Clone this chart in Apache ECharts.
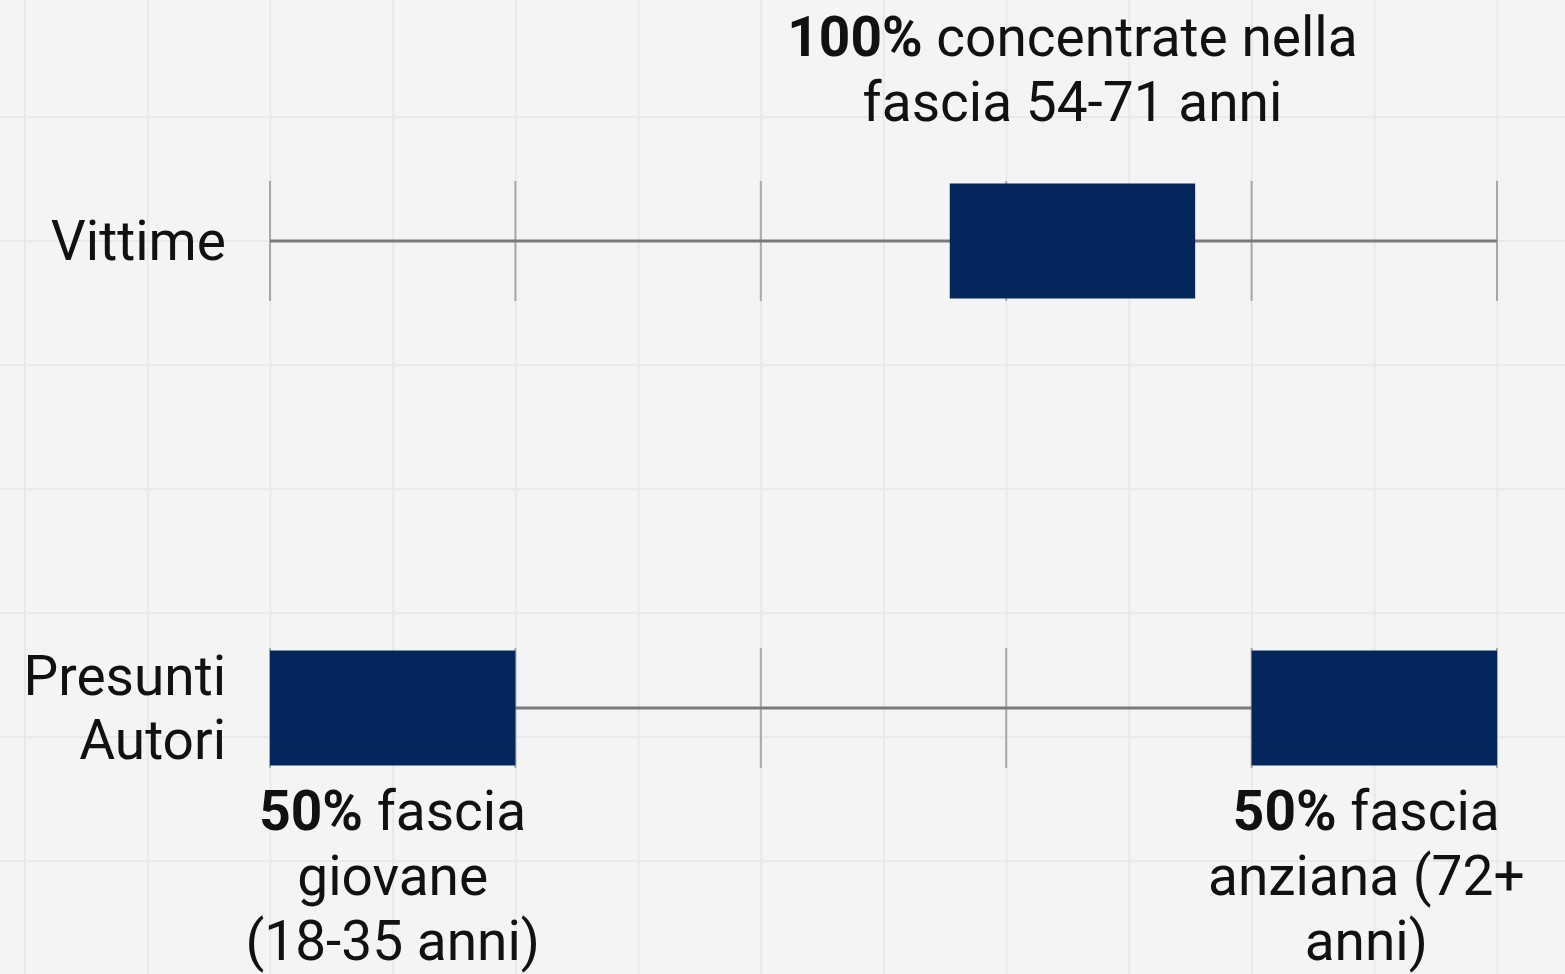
<!DOCTYPE html>
<html>
<head>
<meta charset="utf-8">
<script src="https://cdn.jsdelivr.net/npm/echarts@6/dist/echarts.min.js"></script>
<style>
  html, body { margin: 0; padding: 0; }
  body {
    width: 1565px; height: 974px; overflow: hidden;
    background-color: #f4f4f4;
    background-image:
      linear-gradient(to right, #e9e9e9 2px, transparent 2px),
      linear-gradient(to bottom, #e9e9e9 2px, transparent 2px);
    background-size: 122.7px 124px, 122.7px 124px;
    background-position: 24px 0px, 0px -8px;
  }
  #chart { width: 1565px; height: 974px; }
</style>
</head>
<body>
<div id="chart"></div>
<script>
// ---- data ----
const categories = ['Vittime', 'Presunti Autori'];
const bandTicks = [0, 1, 2, 3, 4, 5];
const vittimeBars = [[2.77, 3.77]];
const autoriBars = [[0, 1], [4, 5]];
const vittimeLabels = ['{b|100%} concentrate nella\nfascia 54-71 anni'];
const autoriLabels = ['{b|50%} fascia\ngiovane\n(18-35 anni)', '{b|50%} fascia\nanziana (72+\nanni)'];

// ---- build ----
const FONT = 'Roboto';
const TXT = '#111111';
const barData = [];
vittimeBars.forEach((b, i) => barData.push({ value: [b[0], b[1], 0], label: vittimeLabels[i], pos: 'top' }));
autoriBars.forEach((b, i) => barData.push({ value: [b[0], b[1], 1], label: autoriLabels[i], pos: 'bottom' }));

const chart = echarts.init(document.getElementById('chart'), null, { renderer: 'canvas' });

chart.setOption({
  backgroundColor: 'transparent',
  animation: false,
  grid: { left: 270, right: 68, top: 241, bottom: 266, containLabel: false },
  xAxis: {
    type: 'value', min: 0, max: 5, interval: 1,
    axisLine: { show: false }, axisTick: { show: false },
    axisLabel: { show: false }, splitLine: { show: false }
  },
  yAxis: {
    type: 'category', data: categories, inverse: true, boundaryGap: false,
    axisLine: { show: false }, axisTick: { show: false }, splitLine: { show: false },
    axisLabel: {
      fontFamily: FONT, fontSize: 55, color: TXT, align: 'right', margin: 44,
      lineHeight: 64,
      formatter: v => v.split(' ').map(s => '{a|' + s + '}').join('\n'),
      rich: { a: { fontFamily: FONT, fontSize: 55, color: TXT, lineHeight: 64, padding: [10, 0, 0, 0] } }
    }
  },
  series: [
    {
      type: 'custom',
      data: categories.map((c, i) => [i]),
      renderItem: function (params, api) {
        const row = api.value(0);
        const p0 = api.coord([bandTicks[0], row]);
        const p1 = api.coord([bandTicks[bandTicks.length - 1], row]);
        const children = [];
        bandTicks.forEach(t => {
          const p = api.coord([t, row]);
          children.push({
            type: 'line',
            shape: { x1: p[0], y1: p[1] - 60, x2: p[0], y2: p[1] + 60 },
            style: { stroke: '#a8a8a8', lineWidth: 2 }
          });
        });
        children.push({
          type: 'line',
          shape: { x1: p0[0], y1: p0[1], x2: p1[0], y2: p1[1] },
          style: { stroke: '#7a7a7a', lineWidth: 3 }
        });
        return { type: 'group', children: children };
      },
      z: 1
    },
    {
      type: 'custom',
      data: barData,
      renderItem: function (params, api) {
        const s = api.coord([api.value(0), api.value(2)]);
        const e = api.coord([api.value(1), api.value(2)]);
        const h = 115;
        const item = barData[params.dataIndex];
        const isTop = item.pos === 'top';
        return {
          type: 'rect',
          shape: { x: s[0], y: s[1] - h / 2, width: e[0] - s[0], height: h },
          style: { fill: '#04265c' },
          textContent: {
            style: {
              text: item.label,
              fontFamily: FONT, fontSize: 55, fill: TXT, lineHeight: 65,
              align: 'center',
              rich: { b: { fontFamily: FONT, fontSize: 55, fontWeight: 'bold', fill: TXT, lineHeight: 65 } }
            }
          },
          textConfig: isTop
            ? { position: 'top', distance: 44 }
            : { position: 'bottom', distance: 18, offset: [item.value[0] > 2 ? -8 : 0, 0] }
        };
      },
      z: 2
    }
  ]
});
</script>
</body>
</html>
